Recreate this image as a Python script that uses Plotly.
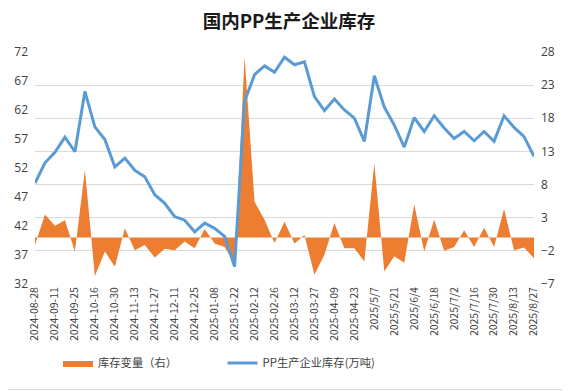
import plotly.graph_objects as go

dates = ["2024-08-28","2024-09-04","2024-09-11","2024-09-18","2024-09-25","2024-10-09","2024-10-16","2024-10-23","2024-10-30","2024-11-06",
         "2024-11-13","2024-11-20","2024-11-27","2024-12-04","2024-12-11","2024-12-18","2024-12-25","2025-01-02","2025-01-08","2025-01-15",
         "2025-01-22","2025-02-05","2025-02-12","2025-02-19","2025-02-26","2025-03-05","2025-03-12","2025-03-19","2025-03-27","2025-04-02",
         "2025-04-09","2025-04-16","2025-04-23","2025-04-30","2025/5/7","2025/5/14","2025/5/21","2025/5/28","2025/6/4","2025/6/11",
         "2025/6/18","2025/6/25","2025/7/2","2025/7/9","2025/7/16","2025/7/23","2025/7/30","2025/8/6","2025/8/13","2025/8/20","2025/8/27"]

inventory = [49.4,52.9,54.7,57.3,54.8,65.2,59.1,56.9,52.2,53.7,
             51.6,50.5,47.4,45.9,43.6,43.0,41.0,42.5,41.6,40.2,
             35.0,63.5,68.1,69.6,68.5,71.1,69.8,70.3,64.3,61.9,
             63.9,62.0,60.6,56.6,67.9,62.5,59.4,55.6,60.7,58.3,
             61.0,58.9,57.1,58.3,56.7,58.3,56.6,61.0,59.0,57.4,54.0]

change = [-1.1,3.5,1.8,2.6,-2.1,10.2,-5.8,-2.1,-4.4,1.4,
          -1.9,-1.1,-3.0,-1.7,-1.9,-0.6,-1.6,1.3,-0.9,-1.4,
          -3.9,27.3,5.4,2.7,-0.8,2.4,-0.9,0.4,-5.6,-2.6,
          2.2,-1.6,-1.6,-3.6,11.2,-5.1,-2.8,-3.8,5.0,-2.1,
          2.7,-2.0,-1.4,1.1,-1.4,1.5,-1.4,4.3,-1.9,-1.5,-3.1]

tick_labels = dates[::2]

left_ticks = [32, 37, 42, 47, 52, 57, 62, 67, 72]
right_ticks = [-7, -2, 3, 8, 13, 18, 23, 28]

FONT = "Noto Sans CJK SC"
TXT = "#404040"

W, H = 562, 383
L, R, T, B = 27, 36, 44, 107
PW, PH = W - L - R, H - T - B

fig = go.Figure()
fig.add_trace(go.Scatter(
    x=dates, y=change, name="库存变量（右）" + "\u00a0" * 16, mode="lines",
    fill="tozeroy", fillcolor="#ED7D31", line=dict(color="#ED7D31", width=0),
    yaxis="y"))
fig.add_trace(go.Scatter(
    x=dates, y=inventory, name="PP生产企业库存(万吨)", mode="lines",
    line=dict(color="#5B9BD5", width=3), yaxis="y2"))

fig.update_layout(
    width=W, height=H,
    margin=dict(l=L, r=R, t=T, b=B, autoexpand=False),
    paper_bgcolor="white", plot_bgcolor="white",
    font=dict(family=FONT, color=TXT, size=11),
    title=dict(text="<b>国内PP生产企业库存</b>", x=0.5, xanchor="center", y=1 - 14/H, yanchor="middle",
               font=dict(family=FONT, size=18.5, color="#1a1a1a")),
    xaxis=dict(type="category", categoryorder="array", categoryarray=dates,
               range=[0, 50], tickmode="array", tickvals=tick_labels, ticktext=tick_labels,
               tickangle=-90, showgrid=False, zeroline=False, showline=False, ticks="",
               tickfont=dict(size=10.5, family=FONT, color=TXT)),
    yaxis=dict(side="right", range=[-7, 28], tickmode="array", tickvals=right_ticks,
               showgrid=True, gridcolor="#d9d9d9", gridwidth=1, zeroline=False, showline=False,
               ticks="", ticklabelstandoff=6, tickfont=dict(size=12, family="Open Sans", color=TXT)),
    yaxis2=dict(side="left", overlaying="y", range=[32, 72], tickmode="array", tickvals=left_ticks,
                showgrid=False, zeroline=False, showline=False, ticks="", ticklabelstandoff=6,
                tickfont=dict(size=12, family="Open Sans", color=TXT)),
    legend=dict(orientation="h", x=23/PW, xanchor="left", y=-(363 - 8 - T - PH)/PH, yanchor="middle",
                font=dict(size=11.3, family=FONT, color=TXT), itemwidth=30, traceorder="normal"),
    showlegend=True,
)

# outer chart border (right and bottom edges visible in frame)
fig.add_shape(type="line", xref="paper", yref="paper",
              x0=(W - 1.5 - L)/PW, x1=(W - 1.5 - L)/PW, y0=-(B - 0.5)/PH, y1=(PH + T)/PH,
              line=dict(color="#d9d9d9", width=1))
fig.add_shape(type="line", xref="paper", yref="paper",
              x0=-L/PW, x1=(W - L)/PW, y0=-(B - 1.5)/PH, y1=-(B - 1.5)/PH,
              line=dict(color="#d9d9d9", width=1))

fig.write_html("out.html")
